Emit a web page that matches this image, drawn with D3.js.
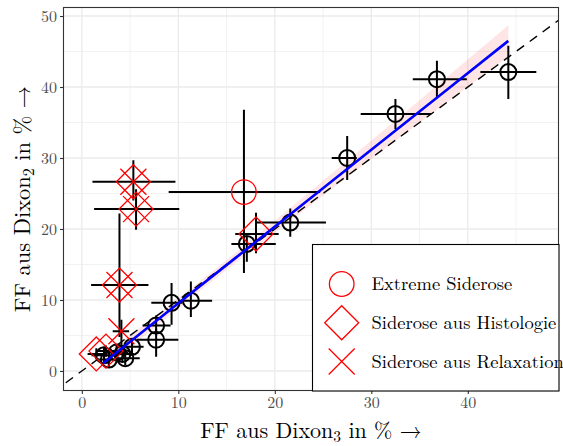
<!DOCTYPE html>
<html><head><meta charset="utf-8">
<script src="https://cdn.jsdelivr.net/npm/d3@7/dist/d3.min.js"></script>
<style>body{margin:0;background:#fff}svg{display:block}</style>
</head><body>
<script>
// ---- data ----
const xTicks = [0, 10, 20, 30, 40];
const yTicks = [0, 10, 20, 30, 40, 50];
const xMinor = [5, 15, 25, 35, 45];
const yMinor = [5, 15, 25, 35, 45];

// black points: x, y, xlo, xhi, ylo, yhi
const ptX   = [44.2, 36.8, 32.5, 27.5, 21.6, 17.1, 11.3, 9.3, 7.7, 7.7, 2.3, 2.8, 3.6, 4.5, 4.2, 5.2];
const ptY   = [42.1, 41.1, 36.2, 30.0, 20.9, 17.9, 9.9, 9.6, 6.4, 4.4, 2.2, 1.6, 2.6, 1.8, 2.4, 3.4];
const ptXlo = [41.3, 34.3, 28.9, 25.9, 18.0, 15.5, 10.2, 7.2, 6.3, 5.7, 1.0, 1.8, 2.4, 3.4, 3.2, 4.0];
const ptXhi = [47.1, 39.9, 36.2, 28.5, 25.3, 20.1, 13.5, 10.4, 9.2, 10.0, 3.6, 3.8, 4.8, 6.0, 5.4, 6.4];
const ptYlo = [38.3, 38.6, 34.1, 26.9, 18.9, 15.4, 7.6, 6.5, 5.0, 2.0, 1.0, 0.6, 1.4, 0.8, 1.4, 2.2];
const ptYhi = [45.8, 43.7, 38.3, 33.1, 22.9, 18.9, 12.6, 12.4, 7.8, 6.0, 3.4, 2.6, 3.8, 3.0, 3.4, 4.6];

// special points with error bars; marker kinds
const spX    = [16.8, 5.34, 5.62, 3.9, 18.05, 1.5, 2.5, 4.1];
const spY    = [25.2, 26.66, 22.8, 12.1, 19.3, 2.4, 2.8, 5.6];
const spXlo  = [9.0, 1.1, 1.27, 0.96, 15.9, 0.6, 1.6, 3.2];
const spXhi  = [24.7, 9.7, 10.1, 6.9, 20.4, 2.4, 3.4, 4.9];
const spYlo  = [13.8, 24.0, 19.9, 4.8, 16.6, 1.6, 2.0, 3.6];
const spYhi  = [36.8, 29.7, 25.6, 22.2, 22.3, 3.2, 3.6, 7.2];
const spKind = ["circle", "diamondX", "diamondX", "diamondX", "diamond", "diamond", "diamond", "x"];

// regression fit and confidence band
const fitX  = [2.2, 10, 16, 22, 30, 38, 44.2];
const fitY  = [1.1, 9.53, 16.0, 22.5, 31.15, 39.8, 46.5];
const fitLo = [0.1, 8.83, 15.3, 21.6, 29.85, 38.0, 44.3];
const fitHi = [2.1, 10.23, 16.7, 23.4, 32.45, 41.6, 48.7];

const legendLabels = ["Extreme Siderose", "Siderose aus Histologie", "Siderose aus Relaxation"];
const legendKinds = ["circle", "diamond", "x"];

// ---- layout ----
const W = 563, H = 446;
const P = {l: 63.5, t: 7.5, r: 558.5, b: 390.5};
const x = d3.scaleLinear().domain([-1.9, 49.4]).range([P.l, P.r]);
const y = d3.scaleLinear().domain([-2.75, 51.2]).range([P.b, P.t]);
const serif = "'Latin Modern Roman','CMU Serif','Liberation Serif','DejaVu Serif',serif";

const svg = d3.select("body").append("svg").attr("width", W).attr("height", H);
svg.append("defs").append("clipPath").attr("id", "clip")
  .append("rect").attr("x", P.l).attr("y", P.t).attr("width", P.r - P.l).attr("height", P.b - P.t);

// grid
const grid = svg.append("g");
grid.selectAll(".mnx").data(xMinor).join("line")
  .attr("x1", d => x(d)).attr("x2", d => x(d)).attr("y1", P.t).attr("y2", P.b)
  .attr("stroke", "#f2f2f2").attr("stroke-width", 1);
grid.selectAll(".mny").data(yMinor).join("line")
  .attr("y1", d => y(d)).attr("y2", d => y(d)).attr("x1", P.l).attr("x2", P.r)
  .attr("stroke", "#f2f2f2").attr("stroke-width", 1);
grid.selectAll(".mjx").data(xTicks).join("line")
  .attr("x1", d => x(d)).attr("x2", d => x(d)).attr("y1", P.t).attr("y2", P.b)
  .attr("stroke", "#ebebeb").attr("stroke-width", 1.3);
grid.selectAll(".mjy").data(yTicks).join("line")
  .attr("y1", d => y(d)).attr("y2", d => y(d)).attr("x1", P.l).attr("x2", P.r)
  .attr("stroke", "#ebebeb").attr("stroke-width", 1.3);

const plot = svg.append("g").attr("clip-path", "url(#clip)");

// ribbon
const band = fitX.map((v, i) => ({x: v, lo: fitLo[i], hi: fitHi[i], y: fitY[i]}));
plot.append("path").datum(band)
  .attr("d", d3.area().x(d => x(d.x)).y0(d => y(d.lo)).y1(d => y(d.hi)).curve(d3.curveMonotoneX))
  .attr("fill", "rgba(255,0,0,0.1)");

// identity line
plot.append("line")
  .attr("x1", x(-3)).attr("y1", y(-3)).attr("x2", x(52)).attr("y2", y(52))
  .attr("stroke", "#000").attr("stroke-width", 1.4).attr("stroke-dasharray", "9,7");

// error bars
function errbars(g, X, Y, XL, XH, YL, YH) {
  X.forEach((v, i) => {
    g.append("line").attr("x1", x(XL[i])).attr("x2", x(XH[i])).attr("y1", y(Y[i])).attr("y2", y(Y[i]))
      .attr("stroke", "#000").attr("stroke-width", 2);
    g.append("line").attr("x1", x(v)).attr("x2", x(v)).attr("y1", y(YL[i])).attr("y2", y(YH[i]))
      .attr("stroke", "#000").attr("stroke-width", 2);
  });
}
errbars(plot, ptX, ptY, ptXlo, ptXhi, ptYlo, ptYhi);
errbars(plot, spX, spY, spXlo, spXhi, spYlo, spYhi);

// black circles
plot.selectAll(".pt").data(ptX).join("circle")
  .attr("cx", d => x(d)).attr("cy", (d, i) => y(ptY[i])).attr("r", 8)
  .attr("fill", "none").attr("stroke", "#000").attr("stroke-width", 2);

// marker drawing
function marker(g, cx, cy, kind) {
  const red = "#ff0000", sw = 1.3;
  if (kind === "circle") {
    g.append("circle").attr("cx", cx).attr("cy", cy).attr("r", 12.3)
      .attr("fill", "none").attr("stroke", red).attr("stroke-width", sw);
  }
  if (kind === "diamond" || kind === "diamondX") {
    const s = 17;
    g.append("path").attr("d", `M${cx},${cy - s}L${cx + s},${cy}L${cx},${cy + s}L${cx - s},${cy}Z`)
      .attr("fill", "none").attr("stroke", red).attr("stroke-width", sw);
  }
  if (kind === "x" || kind === "diamondX") {
    const s = 13;
    g.append("path").attr("d", `M${cx - s},${cy - s}L${cx + s},${cy + s}M${cx - s},${cy + s}L${cx + s},${cy - s}`)
      .attr("fill", "none").attr("stroke", red).attr("stroke-width", sw);
  }
}
spX.forEach((v, i) => marker(plot, x(v), y(spY[i]), spKind[i]));

// fit line
plot.append("path").datum(band)
  .attr("d", d3.line().x(d => x(d.x)).y(d => y(d.y)))
  .attr("fill", "none").attr("stroke", "#0000ff").attr("stroke-width", 2.6);

// panel border
svg.append("rect").attr("x", P.l).attr("y", P.t).attr("width", P.r - P.l).attr("height", P.b - P.t)
  .attr("fill", "none").attr("stroke", "#333").attr("stroke-width", 1.1);

// axes
const xAxis = svg.append("g").attr("transform", `translate(0,${P.b})`)
  .call(d3.axisBottom(x).tickValues(xTicks).tickSize(3.5).tickPadding(3));
const yAxis = svg.append("g").attr("transform", `translate(${P.l},0)`)
  .call(d3.axisLeft(y).tickValues(yTicks).tickSize(3.5).tickPadding(3));
[xAxis, yAxis].forEach(a => {
  a.select(".domain").remove();
  a.selectAll(".tick line").attr("stroke", "#333").attr("stroke-width", 1.1);
  a.selectAll(".tick text").attr("fill", "#4d4d4d").style("font-family", serif).style("font-size", "16px");
});

// axis titles
const xt = svg.append("text").attr("x", (P.l + P.r) / 2).attr("y", 438).attr("text-anchor", "middle")
  .style("font-family", serif).style("font-size", "22px").attr("fill", "#000");
xt.append("tspan").text("FF aus Dixon");
xt.append("tspan").text("3").attr("dy", 4).style("font-size", "15.5px");
xt.append("tspan").text(" in % →").attr("dy", -4);

const yt = svg.append("text").attr("transform", `translate(30,${(P.t + P.b) / 2}) rotate(-90)`)
  .attr("text-anchor", "middle").style("font-family", serif).style("font-size", "22.5px").attr("fill", "#000");
yt.append("tspan").text("FF aus Dixon");
yt.append("tspan").text("2").attr("dy", 4).style("font-size", "16px");
yt.append("tspan").text(" in % →").attr("dy", -4);

// legend
const lg = svg.append("g");
lg.append("rect").attr("x", 312.5).attr("y", 244.5).attr("width", 246.5).attr("height", 146.5)
  .attr("fill", "#fff").attr("stroke", "#000").attr("stroke-width", 1.1);
const legY = d3.scalePoint().domain(legendLabels).range([284, 361.5]);
legendLabels.forEach((lab, i) => {
  marker(lg, 341.7, legY(lab), legendKinds[i]);
  lg.append("text").attr("x", 371.5).attr("y", legY(lab)).attr("dy", "0.35em")
    .style("font-family", serif).style("font-size", "18.5px").attr("fill", "#000").text(lab);
});
</script>
</body></html>
